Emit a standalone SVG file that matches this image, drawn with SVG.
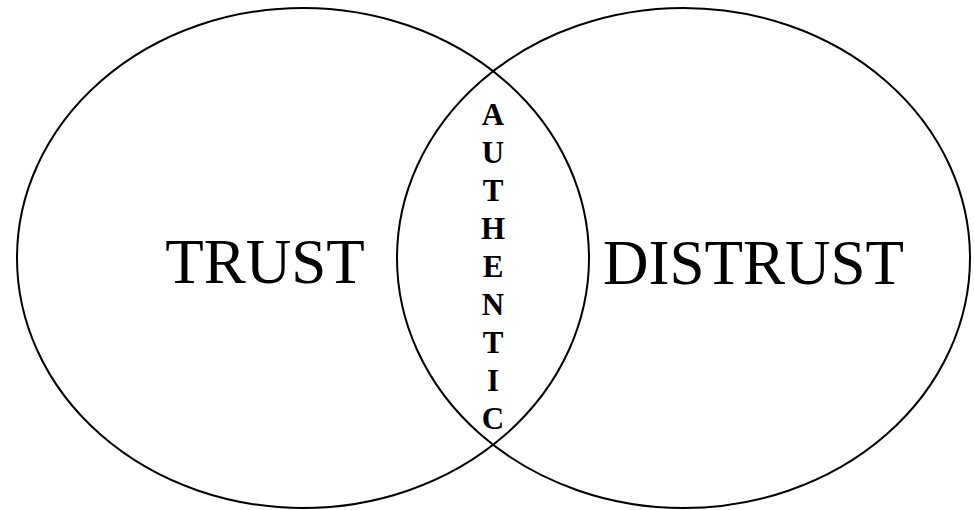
<svg xmlns="http://www.w3.org/2000/svg" width="974" height="510" viewBox="0 0 974 510">
<style>
.c{fill:none;stroke:#000;stroke-width:2}
.big{font-family:"Liberation Serif","Times New Roman",serif;font-size:63px;fill:#000;text-anchor:middle}
.v{font-family:"Liberation Serif","Times New Roman",serif;font-size:31px;font-weight:bold;fill:#000;text-anchor:middle}
</style>
<rect width="974" height="510" fill="#fff"/>
<g id="trust">
<ellipse class="c" cx="303" cy="258" rx="286" ry="250"/>
<text class="big" x="265" y="283">TRUST</text>
</g>
<g id="distrust">
<ellipse class="c" cx="683.5" cy="258" rx="286.5" ry="250"/>
<text class="big" x="753.5" y="284">DISTRUST</text>
</g>
<g id="authentic">
<text class="v" x="493" y="125">A</text>
<text class="v" x="493" y="163">U</text>
<text class="v" x="493" y="201">T</text>
<text class="v" x="493" y="239">H</text>
<text class="v" x="493" y="277">E</text>
<text class="v" x="493" y="315">N</text>
<text class="v" x="493" y="353">T</text>
<text class="v" x="493" y="391">I</text>
<text class="v" x="493" y="429">C</text>
</g>
<g id="connectors"></g>
</svg>
